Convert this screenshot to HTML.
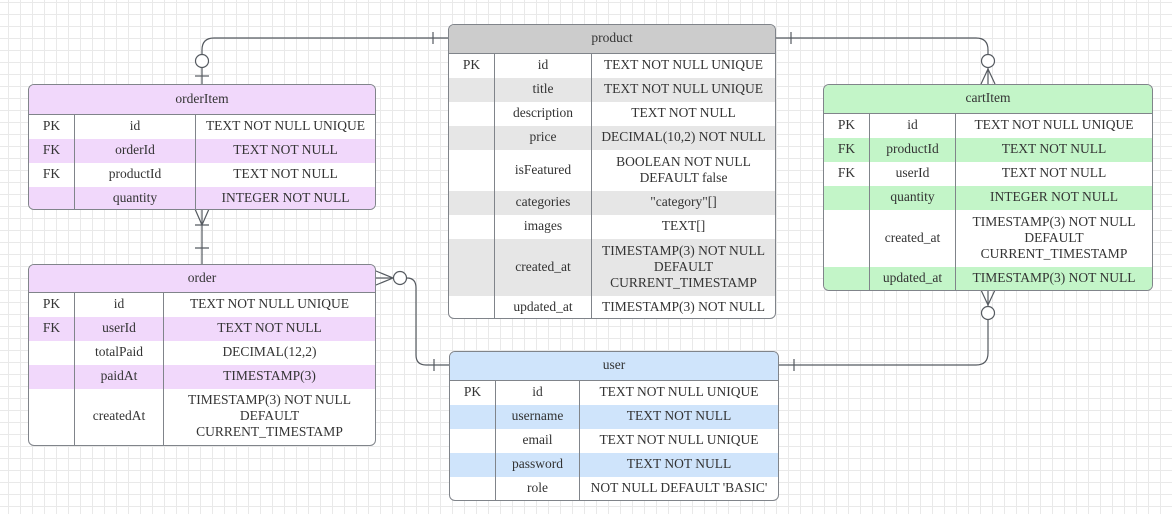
<!DOCTYPE html>
<html><head><meta charset="utf-8"><style>
body{margin:0;width:1172px;height:514px;overflow:hidden;background:#fff;
background-image:linear-gradient(#e9e9e9 1px,transparent 1px),linear-gradient(90deg,#e9e9e9 1px,transparent 1px);background-size:12px 12px;background-position:-4px 2px;
font-family:"Liberation Serif",serif;font-size:13.5px;color:#333;}
.e{position:absolute;border:1px solid #80848a;border-radius:6px;overflow:hidden;background:#fff;box-sizing:border-box}
.h{display:flex;align-items:center;justify-content:center;border-bottom:1px solid #80848a;box-sizing:border-box;padding-bottom:2px}
.r{display:flex;box-sizing:border-box}
.r div{display:flex;align-items:center;justify-content:center;text-align:center;box-sizing:border-box;line-height:16px;padding-bottom:2px}
.r div+div{border-left:1px solid #80848a}
svg{position:absolute;left:0;top:0}
</style></head><body>
<svg width="1172" height="514" fill="none" stroke="#555a60" stroke-width="1.2">
<path d="M448 38 H214 Q202 38 202 50 V84"/>
<circle cx="202" cy="61" r="6.5" fill="#fff"/>
<path d="M195 76 H209"/>
<path d="M433 32 V44"/>
<path d="M776 38 H976 Q988 38 988 50 V84"/>
<path d="M791 32 V44"/>
<circle cx="988" cy="61" r="6.5" fill="#fff"/>
<path d="M981 84 L988 69 L995 84"/>
<path d="M988 290 V353 Q988 365 976 365 H779"/>
<path d="M981 290 L988 305 L995 290"/>
<circle cx="988" cy="313" r="6.5" fill="#fff"/>
<path d="M794 359 V371"/>
<path d="M202 209 V264"/>
<path d="M195 209 L202 225 L209 209"/>
<path d="M195 225 H209 M195 248 H209"/>
<path d="M376 278 H392"/>
<path d="M376 271 L393 278 L376 285"/>
<circle cx="400" cy="278" r="6.5" fill="#fff"/>
<path d="M407 278 Q416 278 416 288 V355 Q416 365 426 365 H449"/>
<path d="M434 359 V371"/>
</svg>

<div class="e" style="left:28px;top:84px;width:348px;height:126px">
<div class="h" style="height:30px;background:#f1d8fb">orderItem</div>
<div class="r" style="height:24px"><div style="width:45px">PK</div><div style="width:121px">id</div><div style="flex:1">TEXT NOT NULL UNIQUE</div></div>
<div class="r" style="height:24px;background:#f1d8fb"><div style="width:45px">FK</div><div style="width:121px">orderId</div><div style="flex:1">TEXT NOT NULL</div></div>
<div class="r" style="height:24px"><div style="width:45px">FK</div><div style="width:121px">productId</div><div style="flex:1">TEXT NOT NULL</div></div>
<div class="r" style="height:24px;background:#f1d8fb"><div style="width:45px"></div><div style="width:121px">quantity</div><div style="flex:1">INTEGER NOT NULL</div></div>
</div>

<div class="e" style="left:28px;top:264px;width:348px;height:182px">
<div class="h" style="height:28px;background:#f1d8fb">order</div>
<div class="r" style="height:24px"><div style="width:45px">PK</div><div style="width:89px">id</div><div style="flex:1">TEXT NOT NULL UNIQUE</div></div>
<div class="r" style="height:24px;background:#f1d8fb"><div style="width:45px">FK</div><div style="width:89px">userId</div><div style="flex:1">TEXT NOT NULL</div></div>
<div class="r" style="height:24px"><div style="width:45px"></div><div style="width:89px">totalPaid</div><div style="flex:1">DECIMAL(12,2)</div></div>
<div class="r" style="height:24px;background:#f1d8fb"><div style="width:45px"></div><div style="width:89px">paidAt</div><div style="flex:1">TIMESTAMP(3)</div></div>
<div class="r" style="height:56px"><div style="width:45px"></div><div style="width:89px">createdAt</div><div style="flex:1">TIMESTAMP(3) NOT NULL<br>DEFAULT<br>CURRENT_TIMESTAMP</div></div>
</div>

<div class="e" style="left:448px;top:24px;width:328px;height:295px">
<div class="h" style="height:29px;background:#cccccc">product</div>
<div class="r" style="height:24px"><div style="width:45px">PK</div><div style="width:97px">id</div><div style="flex:1">TEXT NOT NULL UNIQUE</div></div>
<div class="r" style="height:24px;background:#e6e6e6"><div style="width:45px"></div><div style="width:97px">title</div><div style="flex:1">TEXT NOT NULL UNIQUE</div></div>
<div class="r" style="height:24px"><div style="width:45px"></div><div style="width:97px">description</div><div style="flex:1">TEXT NOT NULL</div></div>
<div class="r" style="height:24px;background:#e6e6e6"><div style="width:45px"></div><div style="width:97px">price</div><div style="flex:1">DECIMAL(10,2) NOT NULL</div></div>
<div class="r" style="height:41px"><div style="width:45px"></div><div style="width:97px">isFeatured</div><div style="flex:1">BOOLEAN NOT NULL<br>DEFAULT false</div></div>
<div class="r" style="height:24px;background:#e6e6e6"><div style="width:45px"></div><div style="width:97px">categories</div><div style="flex:1">"category"[]</div></div>
<div class="r" style="height:24px"><div style="width:45px"></div><div style="width:97px">images</div><div style="flex:1">TEXT[]</div></div>
<div class="r" style="height:57px;background:#e6e6e6"><div style="width:45px"></div><div style="width:97px">created_at</div><div style="flex:1">TIMESTAMP(3) NOT NULL<br>DEFAULT<br>CURRENT_TIMESTAMP</div></div>
<div class="r" style="height:23px"><div style="width:45px"></div><div style="width:97px">updated_at</div><div style="flex:1">TIMESTAMP(3) NOT NULL</div></div>
</div>

<div class="e" style="left:823px;top:84px;width:330px;height:207px">
<div class="h" style="height:29px;background:#c3f5c8">cartItem</div>
<div class="r" style="height:24px"><div style="width:45px">PK</div><div style="width:86px">id</div><div style="flex:1">TEXT NOT NULL UNIQUE</div></div>
<div class="r" style="height:24px;background:#c3f5c8"><div style="width:45px">FK</div><div style="width:86px">productId</div><div style="flex:1">TEXT NOT NULL</div></div>
<div class="r" style="height:24px"><div style="width:45px">FK</div><div style="width:86px">userId</div><div style="flex:1">TEXT NOT NULL</div></div>
<div class="r" style="height:24px;background:#c3f5c8"><div style="width:45px"></div><div style="width:86px">quantity</div><div style="flex:1">INTEGER NOT NULL</div></div>
<div class="r" style="height:57px"><div style="width:45px"></div><div style="width:86px">created_at</div><div style="flex:1">TIMESTAMP(3) NOT NULL<br>DEFAULT<br>CURRENT_TIMESTAMP</div></div>
<div class="r" style="height:24px;background:#c3f5c8"><div style="width:45px"></div><div style="width:86px">updated_at</div><div style="flex:1">TIMESTAMP(3) NOT NULL</div></div>
</div>

<div class="e" style="left:449px;top:351px;width:330px;height:150px">
<div class="h" style="height:29px;background:#cfe4fb">user</div>
<div class="r" style="height:24px"><div style="width:45px">PK</div><div style="width:84px">id</div><div style="flex:1">TEXT NOT NULL UNIQUE</div></div>
<div class="r" style="height:24px;background:#cfe4fb"><div style="width:45px"></div><div style="width:84px">username</div><div style="flex:1">TEXT NOT NULL</div></div>
<div class="r" style="height:24px"><div style="width:45px"></div><div style="width:84px">email</div><div style="flex:1">TEXT NOT NULL UNIQUE</div></div>
<div class="r" style="height:24px;background:#cfe4fb"><div style="width:45px"></div><div style="width:84px">password</div><div style="flex:1">TEXT NOT NULL</div></div>
<div class="r" style="height:24px"><div style="width:45px"></div><div style="width:84px">role</div><div style="flex:1">NOT NULL DEFAULT 'BASIC'</div></div>
</div>
</body></html>
